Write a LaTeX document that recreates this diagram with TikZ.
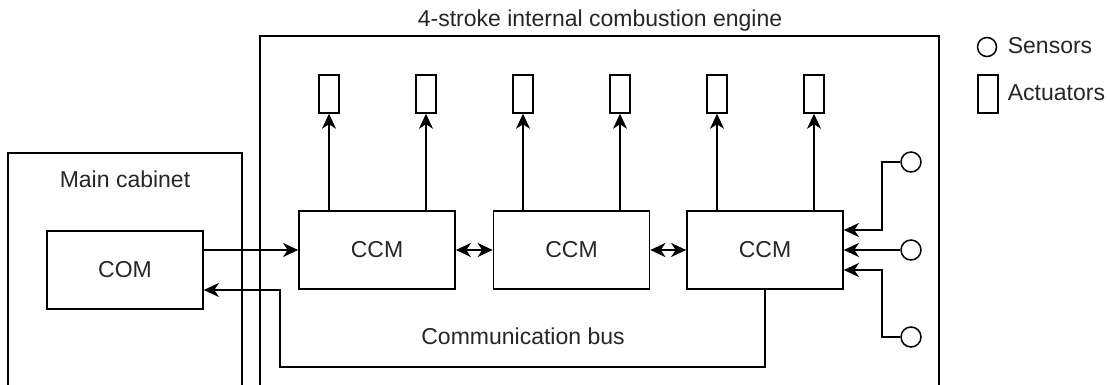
\documentclass[tikz,border=0pt]{standalone}
\usepackage{fontspec}
\setmainfont{Liberation Sans}
\usetikzlibrary{arrows.meta}
\begin{document}
\begin{tikzpicture}[x=1pt,y=-1pt,
  line width=1.7pt,
  every node/.style={font=\fontsize{23}{27}\selectfont, text=black!85},
  block/.style={draw, rectangle, minimum width=156pt, minimum height=78pt, inner sep=0pt, line width=1.7pt},
  actuator/.style={draw, rectangle, minimum width=20pt, minimum height=38pt, inner sep=0pt, line width=1.5pt},
  sensor/.style={draw, circle, minimum size=20pt, inner sep=0pt, line width=1.5pt},
  label/.style={anchor=base},
  arr/.style={-{Stealth[length=15pt,width=14pt,inset=4.5pt]}},
  biarr/.style={{Stealth[length=15pt,width=14pt,inset=4.5pt]}-{Stealth[length=15pt,width=14pt,inset=4.5pt]}}
]
\useasboundingbox (0,0) rectangle (1110,385);

% enclosures, open towards the bottom
\draw (8,385) -- (8,153) -- (242,153) -- (242,385);
\draw (260,385) -- (260,36) -- (939,36) -- (939,385);
\node[label] (cabtitle) at (125,187) {Main cabinet};
\node[label] (engtitle) at (600,27) {4-stroke internal combustion engine};

% control modules
\node[block] (com) at (125,270) {COM};
\node[block] (ccm1) at (377,250) {CCM};
\node[block] (ccm2) at (571.5,250) {CCM};
\node[block] (ccm3) at (765,250) {CCM};

% actuators
\foreach \i/\x in {1/329,2/426,3/523,4/620,5/717,6/814}
  \node[actuator] (a\i) at (\x,94) {};

% sensors
\node[sensor] (s1) at (911,162) {};
\node[sensor] (s2) at (911,250) {};
\node[sensor] (s3) at (911,337) {};

% legend
\node[sensor, minimum size=19pt] (ls) at (987,47) {};
\node[actuator] (la) at (988,94) {};
\node[anchor=base west, inner sep=0pt] (lstext) at (1007,54) {Sensors};
\node[anchor=base west, inner sep=0pt] (latext) at (1007,101) {Actuators};

% modules to actuators
\draw[arr] (ccm1.north -| a1) -- (a1.south);
\draw[arr] (ccm1.north -| a2) -- (a2.south);
\draw[arr] (ccm2.north -| a3) -- (a3.south);
\draw[arr] (ccm2.north -| a4) -- (a4.south);
\draw[arr] (ccm3.north -| a5) -- (a5.south);
\draw[arr] (ccm3.north -| a6) -- (a6.south);

% sensors to the last module
\coordinate (sj) at (882,250);
\draw[arr] (s1.west) -- (s1.west -| sj) |- ([yshift=20pt]ccm3.east);
\draw[arr] (s2.west) -- (ccm3.east);
\draw[arr] (s3.west) -- (s3.west -| sj) |- ([yshift=-20pt]ccm3.east);

% communication bus
\draw[arr] ([yshift=20pt]com.east) -- (ccm1.west);
\draw[biarr] (ccm1.east) -- (ccm2.west);
\draw[biarr] (ccm2.east) -- (ccm3.west);
\coordinate (buscorner) at (280,367);
\draw[arr] (ccm3.south) |- (buscorner) |- ([yshift=-20pt]com.east);
\node[label] (bustext) at (523,344) {Communication bus};
\end{tikzpicture}
\end{document}
